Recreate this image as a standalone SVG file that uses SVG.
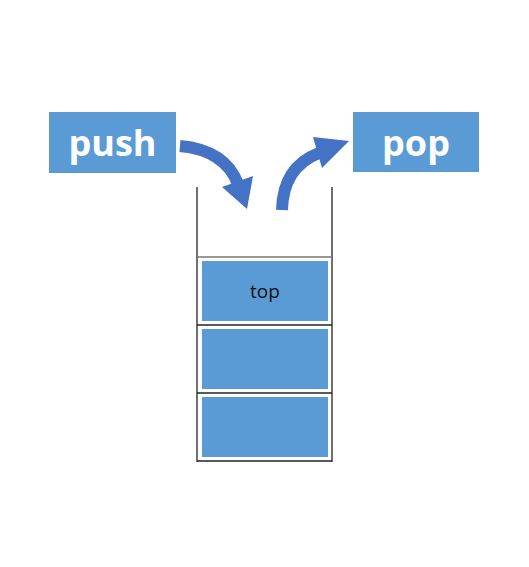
<svg xmlns="http://www.w3.org/2000/svg" width="529" height="567" viewBox="0 0 529 567">
<style>
.box{fill:#5B9BD5}
.lbl{font-family:"Open Sans","Liberation Sans",sans-serif;font-weight:bold;font-size:36px;fill:#fff;text-anchor:middle}
.cell{fill:#5B9BD5}
.wall{stroke:#222;stroke-width:1.3;fill:none}
.shaft{stroke:#4472C4;stroke-width:12;fill:none}
.head{fill:#4472C4}
</style>
<rect width="529" height="567" fill="#fff"/>
<g id="push">
<rect class="box" x="49" y="112" width="127" height="61"/>
<text class="lbl" x="112.5" y="156">push</text>
</g>
<g id="pop">
<rect class="box" x="353" y="112" width="126" height="60"/>
<text class="lbl" x="416" y="156">pop</text>
</g>
<g id="stack">
<line class="wall" x1="197" y1="187" x2="197" y2="462"/>
<line class="wall" x1="332" y1="187" x2="332" y2="462"/>
<line x1="197" y1="257" x2="332" y2="257" stroke="#777" stroke-width="1.5"/>
<line class="wall" x1="197" y1="325" x2="332" y2="325"/>
<line class="wall" x1="197" y1="393" x2="332" y2="393"/>
<line class="wall" x1="197" y1="461" x2="332" y2="461"/>
</g>
<g id="cell-top">
<rect class="cell" x="202" y="261" width="126" height="60"/>
<text x="265" y="298" font-family="Open Sans, Liberation Sans, sans-serif" font-size="19" fill="#111" text-anchor="middle">top</text>
</g>
<g id="cell-2">
<rect class="cell" x="202" y="329" width="126" height="60"/>
</g>
<g id="cell-3">
<rect class="cell" x="202" y="397" width="126" height="60"/>
</g>
<g id="connectors">
<path class="shaft" d="M180,146 Q225,150 238,184"/>
<polygon class="head" points="222,187 253,176 247,209"/>
<path class="shaft" d="M282,210 Q283,167 319,153"/>
<polygon class="head" points="313,137 349,141 322,168"/>
</g>
</svg>
